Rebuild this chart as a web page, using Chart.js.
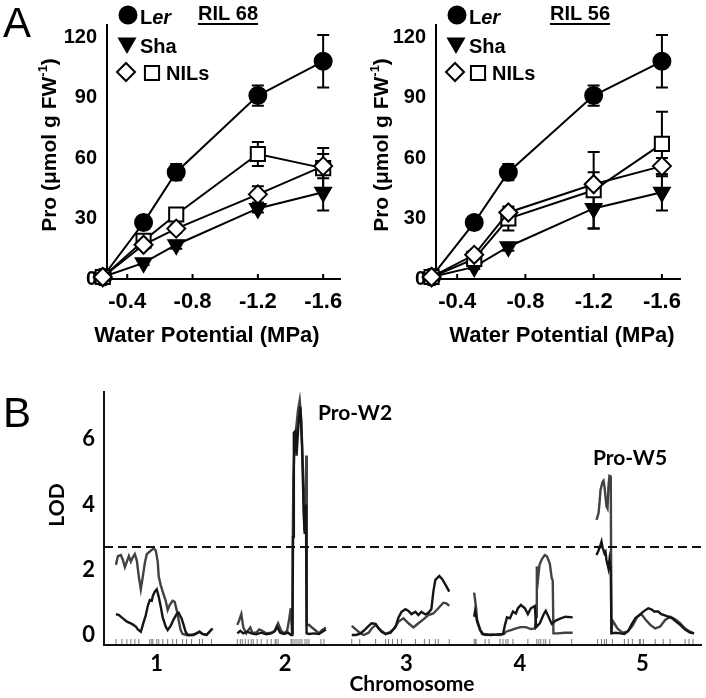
<!DOCTYPE html>
<html>
<head>
<meta charset="utf-8">
<script src="https://cdn.jsdelivr.net/npm/chart.js@4.4.1/dist/chart.umd.min.js"></script>
<style>
  html, body { margin: 0; padding: 0; background: #fff; }
  #wrap { position: relative; width: 706px; height: 698px; overflow: hidden; }
  canvas { position: absolute; }
</style>
</head>
<body>
<div id="wrap">
  <canvas id="ril68" width="353" height="350" style="left:0;top:0"></canvas>
  <canvas id="ril56" width="353" height="350" style="left:353px;top:0"></canvas>
  <canvas id="lod" width="706" height="348" style="left:0;top:350px"></canvas>
</div>
<script>
// ===== Dados do painel A (prolina x potencial hídrico) =====
const waterPotential = [-0.25, -0.5, -0.7, -1.2, -1.6];
const xTicksA = [-0.4, -0.8, -1.2, -1.6];
const yTicksA = [0, 30, 60, 90, 120];

// RIL 68
const ril68Ler = [1, 28, 53, 91, 108];
const ril68LerErr = [0, 2, 4, 5, 13];
const ril68Sha = [1, 8, 17, 35, 43];
const ril68ShaErr = [0, 1, 2, 2, 9];
const ril68NilSquare = [1, 19, 32, 62, 55];
const ril68NilSquareErr = [0, 2, 2, 6, 10];
const ril68NilDiamond = [1, 17, 25, 42, 56];
const ril68NilDiamondErr = [0, 2, 2, 4, 6];

// RIL 56
const ril56Ler = [1, 28, 53, 91, 108];
const ril56LerErr = [0, 2, 4, 5, 13];
const ril56Sha = [1, 6, 16, 35, 43];
const ril56ShaErr = [0, 1, 2, 10, 9];
const ril56NilSquare = [1, 10, 30, 44, 67];
const ril56NilSquareErr = [0, 2, 6, 19, 16];
const ril56NilDiamond = [1, 12, 33, 47, 56];
const ril56NilDiamondErr = [0, 2, 2, 6, 4];

// ===== Dados do painel B (LOD ao longo do genoma) =====
const chromosomes = ['1', '2', '3', '4', '5'];
const chromosomeCenters = [53, 182, 304, 418, 541];
const yTicksB = [0, 2, 4, 6];
const lodThreshold = 2.7;

// posições dos marcadores (traços no eixo)
const markers = [12, 18, 23, 27, 31, 35, 46, 48, 49, 53, 55, 59, 64, 69, 73, 79, 83, 88, 96, 99, 108,
  134, 137, 139, 142, 145, 148, 150, 154, 158, 164, 168, 172, 173, 175, 188, 189, 191, 193, 195, 197, 199, 202, 204, 206, 218, 221,
  249, 257, 273, 283, 286, 290, 295, 299, 313, 322, 327, 333, 336, 347,
  372, 373, 374, 383, 387, 398, 401, 404, 406, 411, 426, 435, 437, 439, 442, 444, 448, 470,
  496, 500, 503, 505, 511, 523, 527, 531, 538, 539, 542, 554, 562, 569, 584, 588, 592];

// curva escura [posição, LOD]
const chr1Dark = [[12,0.64],[15,0.61],[19,0.51],[23,0.41],[28,0.34],[32,0.26],[34,0.17],[37,0.10],[39,0.31],[42,0.61],[44,0.89],[46,1.07],[48,1.05],[49,1.19],[51,1.33],[53,1.40],[55,1.17],[57,0.87],[59,0.54],[62,0.26],[64,0.15],[67,0.28],[70,0.48],[73,0.64],[75,0.68],[78,0.51],[80,0.31],[82,0.10],[84,0],[90,0],[93,0.05],[96,0.10],[99,0.03],[103,0],[106,0.10],[109,0.20]];
const chr2Dark = [[134,0.05],[137,0.13],[140,0.05],[144,0.10],[148,0.05],[153,0.02],[158,0.07],[163,0.02],[168,0.05],[172,0.13],[174,0.26],[177,0.07],[181,0.03],[185,0.07],[188,0],[189.3,0],[190,3.0],[190.8,6.2],[192.3,6.25],[193.5,5.5],[195.5,6.5],[197.3,7.0],[199,5.8],[200.7,3.8],[201.7,3.1],[203,4.0],[203.6,0.05],[206,0.03],[211,0.05],[216,0.03],[221,0.13],[223,0.17]];
const chr3Dark = [[249,0],[253,0],[257,0.03],[261,0.13],[266,0.28],[269,0.36],[273,0.34],[276,0.20],[279,0.10],[283,0.03],[288,0.07],[293,0.26],[296,0.54],[299,0.71],[303,0.79],[306,0.74],[309,0.64],[313,0.71],[316,0.61],[319,0.71],[323,0.63],[326,0.68],[329,0.79],[331,1.33],[333,1.69],[337,1.81],[340,1.71],[344,1.50],[347,1.33]];
const chr4Dark = [[372,0.56],[373,0.74],[375,0.41],[378,0.15],[381,0.03],[388,0],[394,0.01],[401,0.03],[403,0.31],[405,0.54],[408,0.51],[411,0.72],[414,0.66],[416,0.82],[419,0.92],[423,0.82],[426,0.64],[429,0.82],[433,0.89],[434.3,0.24],[438,0.36],[442,0.64],[444,0.74],[447,0.54],[450,0.34],[454,0.44],[459,0.51],[464,0.56],[471,0.54]];
const chr5Dark = [[495,2.45],[497,2.59],[499,2.76],[500,2.86],[501,2.69],[503,2.50],[504,2.55],[505,2.30],[507,2.04],[508,2.30],[509.3,1.99],[510,0.05],[514,0.07],[519,0.05],[523,0.03],[527,0.13],[530,0.31],[534,0.51],[539,0.64],[543,0.74],[547,0.82],[550,0.79],[553,0.72],[557,0.72],[560,0.64],[563,0.61],[567,0.56],[571,0.51],[575,0.41],[579,0.31],[584,0.17],[589,0.07],[593,0.05]];

// curva cinza [posição, LOD]
const chr1Gray = [[12,2.15],[14,2.42],[17,2.45],[19,2.30],[21,2.08],[23,2.25],[25,2.42],[27,2.25],[29,2.38],[31,2.48],[33,2.28],[35,1.79],[37,1.40],[39,1.79],[41,2.20],[43,2.48],[46,2.56],[49,2.63],[50,2.66],[52,2.59],[54,2.25],[55,1.79],[57,1.53],[59,1.33],[62,1.05],[64,0.77],[66,0.92],[69,1.05],[71,1.02],[73,0.77],[75,0.46],[77,0.15],[79,0.03],[83,0],[88,0],[93,0.05],[96,0.10],[99,0.03],[103,0],[106,0.10],[109,0.20]];
const chr2Gray = [[134,0.31],[136,0.46],[138,0.64],[140,0.23],[143,0.05],[145,0.15],[147,0.23],[149,0.07],[153,0.07],[156,0.17],[159,0.13],[163,0.05],[168,0.07],[171,0.10],[173,0.23],[175,0.36],[178,0.13],[181,0.05],[184,0.13],[186,0.46],[187.7,0.82],[189,0.05],[189.6,2.5],[190.3,4.8],[191.3,5.6],[193,6.3],[195,6.9],[196.7,7.2],[198.3,6.6],[200,5.0],[201.3,3.2],[202.3,3.4],[203.3,5.5],[203.8,0.3],[206,0.31],[209,0.23],[213,0.13],[216,0.05],[219,0.15],[223,0.23]];
const chr3Gray = [[249,0.28],[253,0.17],[257,0.07],[261,0],[266,0.07],[269,0.20],[273,0.31],[278,0.15],[283,0.03],[288,0.10],[292,0.20],[296,0.41],[301,0.51],[306,0.36],[311,0.23],[316,0.36],[321,0.48],[326,0.61],[331,0.66],[336,0.82],[341,0.99],[344,0.97],[347,0.89]];
const chr4Gray = [[372,1.30],[374,0.82],[375,0.46],[378,0.17],[380,0.03],[384,0],[391,0.02],[398,0],[402,0.03],[404,0.10],[409,0.15],[414,0.20],[419,0.24],[424,0.24],[429,0.18],[433,0.20],[434.3,0.56],[435,2.10],[436.3,1.74],[437.7,2.15],[440,2.32],[443,2.45],[445,2.42],[448,2.20],[450,1.74],[451,1.67],[451.7,0.05],[456,0.05],[463,0.07],[471,0.07]];
const chr5Gray = [[495,3.53],[497,3.73],[498,4.04],[499,4.45],[501,4.69],[502,4.73],[503,4.55],[505,3.94],[506,3.88],[507,4.55],[508,4.88],[509.3,4.86],[510,0.05],[511,0.45],[516,0.20],[521,0.07],[526,0.10],[531,0.27],[536,0.56],[540,0.64],[544,0.48],[549,0.31],[554,0.20],[559,0.26],[564,0.46],[569,0.56],[574,0.48],[579,0.36],[584,0.20],[589,0.10],[593,0.05]];

// ===== Helpers =====
const ARIAL = '"Liberation Sans", Arial, sans-serif';
const LATO = 'Lato, "Open Sans", sans-serif';
Chart.defaults.font.family = ARIAL;
Chart.defaults.color = '#000';

// junta os pontos de um painel A no formato {x, y}
const toPoints = vals => waterPotential.map((w, i) => ({ x: w, y: vals[i] }));

// junta os cromossomos com uma quebra (null) entre eles
function joinChromosomes(parts) {
  const out = [];
  parts.forEach((part, i) => {
    part.forEach(([x, y]) => out.push({ x, y }));
    if (i < parts.length - 1) out.push({ x: part[part.length - 1][0] + 1, y: null });
  });
  return out;
}

// barras de erro desenhadas com as escalas do Chart.js
const errorBars = {
  id: 'errorBars',
  beforeDatasetsDraw(chart) {
    const { ctx, scales: { x, y } } = chart;
    ctx.save();
    ctx.strokeStyle = '#000';
    ctx.lineWidth = 2;
    chart.data.datasets.forEach(ds => {
      if (!ds.errors) return;
      ds.data.forEach((p, i) => {
        const e = ds.errors[i];
        if (!e) return;
        const px = x.getPixelForValue(p.x);
        const top = y.getPixelForValue(p.y + e);
        const bot = y.getPixelForValue(p.y - e);
        ctx.beginPath();
        ctx.moveTo(px, top); ctx.lineTo(px, bot);
        ctx.moveTo(px - 6, top); ctx.lineTo(px + 6, top);
        ctx.moveTo(px - 6, bot); ctx.lineTo(px + 6, bot);
        ctx.stroke();
      });
    });
    ctx.restore();
  }
};

// textos, legenda e ticks internos do painel A
function panelAText(cfg) {
  return {
    id: 'panelAText',
    afterDraw(chart) {
      const { ctx, chartArea: a, scales: { x } } = chart;
      const L = a.left;
      ctx.save();
      ctx.fillStyle = '#000';
      ctx.strokeStyle = '#000';
      ctx.lineWidth = 2;
      // ticks para dentro
      x.ticks.forEach(t => {
        const px = x.getPixelForValue(t.value);
        ctx.beginPath(); ctx.moveTo(px, a.bottom); ctx.lineTo(px, a.bottom - 5); ctx.stroke();
      });

      // letra do painel
      if (cfg.letter) {
        ctx.font = '42px ' + ARIAL;
        ctx.textBaseline = 'alphabetic';
        ctx.textAlign = 'left';
        ctx.fillText(cfg.letter, 3, 37);
      }

      // titulo sublinhado
      ctx.fillStyle = '#000';
      ctx.font = 'bold 20px ' + ARIAL;
      ctx.textAlign = 'center';
      ctx.textBaseline = 'middle';
      ctx.fillText(cfg.title, cfg.titleX, 14);
      const tw = ctx.measureText(cfg.title).width;
      ctx.beginPath(); ctx.moveTo(cfg.titleX - tw / 2, 24); ctx.lineTo(cfg.titleX + tw / 2, 24); ctx.stroke();

      // legenda
      const draw = (style, x0, y0, r, fill, rot) => {
        ctx.fillStyle = fill;
        ctx.strokeStyle = '#000';
        ctx.lineWidth = 2;
        Chart.helpers.drawPoint(ctx, { pointStyle: style, radius: r, rotation: rot || 0, borderWidth: 2 }, x0, y0);
      };
      draw('circle', L + 21, 15, 8.5, '#000');
      draw('triangle', L + 20, 43, 9, '#000', 180);
      draw('rectRot', L + 19, 72, 9, '#fff');
      draw('rect', L + cfg.squareDx, 73, 10, '#fff');
      ctx.fillStyle = '#000';
      ctx.textAlign = 'left';
      ctx.font = 'bold 20px ' + ARIAL;
      ctx.fillText('L', L + 33, 18);
      const lw = ctx.measureText('L').width;
      ctx.font = 'italic bold 20px ' + ARIAL;
      ctx.fillText('er', L + 33 + lw, 18);
      ctx.font = 'bold 20px ' + ARIAL;
      ctx.fillText('Sha', L + 33, 47);
      ctx.fillText('NILs', L + cfg.squareDx + 14, 74);

      // titulo do eixo x
      ctx.font = 'bold 22px ' + ARIAL;
      ctx.textAlign = 'center';
      ctx.fillText('Water Potential (MPa)', cfg.xTitleX, 336);

      // titulo do eixo y (com sobrescrito)
      ctx.translate(cfg.yTitleX, 145);
      ctx.rotate(-Math.PI / 2);
      ctx.textAlign = 'left';
      const main = 'Pro (\u03bcmol g FW';
      ctx.font = 'bold 21px ' + ARIAL;
      const wMain = ctx.measureText(main).width;
      const wClose = ctx.measureText(')').width;
      ctx.font = 'bold 13px ' + ARIAL;
      const wSup = ctx.measureText('-1').width;
      let sx = -(wMain + wSup + wClose) / 2;
      ctx.font = 'bold 21px ' + ARIAL;
      ctx.fillText(main, sx, 0); sx += wMain;
      ctx.font = 'bold 13px ' + ARIAL;
      ctx.fillText('-1', sx, -7); sx += wSup;
      ctx.font = 'bold 21px ' + ARIAL;
      ctx.fillText(')', sx, 0);
      ctx.restore();
    }
  };
}

function lineSet(vals, errs, style, fill, radius, order, rot) {
  return {
    data: toPoints(vals),
    errors: errs,
    borderColor: '#000',
    borderWidth: 2,
    pointStyle: style,
    pointRadius: radius,
    pointHoverRadius: radius,
    pointRotation: rot || 0,
    pointBackgroundColor: fill,
    pointBorderColor: '#000',
    pointBorderWidth: 2,
    tension: 0,
    clip: false,
    order
  };
}

function makePanelA(id, cfg, ler, lerErr, sha, shaErr, sq, sqErr, di, diErr) {
  new Chart(document.getElementById(id), {
    type: 'line',
    data: {
      datasets: [
        lineSet(di, diErr, 'rectRot', '#fff', 9, 0),
        lineSet(sq, sqErr, 'rect', '#fff', 10, 1),
        lineSet(sha, shaErr, 'triangle', '#000', 9, 2, 180),
        lineSet(ler, lerErr, 'circle', '#000', 8.5, 3)
      ]
    },
    options: {
      responsive: false,
      animation: false,
      devicePixelRatio: 1,
      layout: { padding: { left: 0, top: 25, right: cfg.padRight, bottom: 0 } },
      plugins: { legend: { display: false }, tooltip: { enabled: false } },
      scales: {
        x: {
          type: 'linear', min: -1.706, max: -0.276, reverse: true,
          afterBuildTicks: s => { s.ticks = xTicksA.map(v => ({ value: v })); },
          afterFit: s => { s.height = 71; },
          grid: { display: false, drawTicks: false },
          border: { color: '#000', width: 2 },
          ticks: { font: { size: 22, weight: 'bold' }, color: '#000', padding: 10, maxRotation: 0, callback: v => v.toFixed(1) }
        },
        y: {
          min: 0, max: 126,
          afterBuildTicks: s => { s.ticks = yTicksA.map(v => ({ value: v })); },
          afterFit: s => { s.width = cfg.areaLeft; },
          grid: { display: false, drawTicks: false },
          border: { color: '#000', width: 2 },
          ticks: { font: { size: 20, weight: 'bold' }, color: '#000', padding: 10 }
        }
      }
    },
    plugins: [errorBars, panelAText(cfg)]
  });
}

makePanelA('ril68', { letter: 'A', title: 'RIL 68', titleX: 228, xTitleX: 207, yTitleX: 50, areaLeft: 107, padRight: 3, squareDx: 45 },
  ril68Ler, ril68LerErr, ril68Sha, ril68ShaErr, ril68NilSquare, ril68NilSquareErr, ril68NilDiamond, ril68NilDiamondErr);
makePanelA('ril56', { letter: '', title: 'RIL 56', titleX: 227, xTitleX: 209, yTitleX: 29, areaLeft: 83, padRight: 26, squareDx: 42 },
  ril56Ler, ril56LerErr, ril56Sha, ril56ShaErr, ril56NilSquare, ril56NilSquareErr, ril56NilDiamond, ril56NilDiamondErr);

// ===== Painel B =====
const panelBText = {
  id: 'panelBText',
  afterDraw(chart) {
    const { ctx } = chart;
    ctx.save();
    ctx.fillStyle = '#000';
    ctx.font = '42px ' + ARIAL;
    ctx.textBaseline = 'alphabetic';
    ctx.fillText('B', 3, 77);
    ctx.font = 'bold 21px ' + LATO;
    ctx.textAlign = 'center';
    ctx.textBaseline = 'middle';
    ctx.fillText('Pro-W2', 355, 63);
    ctx.fillText('Pro-W5', 630, 108);
    ctx.fillText('Chromosome', 412, 334);
    ctx.translate(57, 155);
    ctx.rotate(-Math.PI / 2);
    ctx.fillText('LOD', 0, 0);
    ctx.restore();
  }
};

new Chart(document.getElementById('lod'), {
  type: 'line',
  data: {
    datasets: [
      {
        data: [{ x: 0, y: lodThreshold }, { x: 600, y: lodThreshold }],
        borderColor: '#111', borderWidth: 2, borderDash: [9, 5], pointRadius: 0
      },
      {
        data: joinChromosomes([chr1Dark, chr2Dark, chr3Dark, chr4Dark, chr5Dark]),
        borderColor: '#151515', borderWidth: 2.4, pointRadius: 0, tension: 0
      },
      {
        data: joinChromosomes([chr1Gray, chr2Gray, chr3Gray, chr4Gray, chr5Gray]),
        borderColor: '#424242', borderWidth: 2.4, pointRadius: 0, tension: 0
      },
      {
        data: markers.map(m => ({ x: m, y: -0.2 })),
        showLine: false, pointStyle: 'line', pointRotation: 90, pointRadius: 2.5,
        pointBorderColor: '#777', pointBorderWidth: 1
      }
    ]
  },
  options: {
    responsive: false,
    animation: false,
    devicePixelRatio: 1,
    layout: { padding: { left: 0, top: 42, right: 2, bottom: 0 } },
    plugins: { legend: { display: false }, tooltip: { enabled: false } },
    scales: {
      x: {
        type: 'linear', min: 0, max: 600,
        afterBuildTicks: s => { s.ticks = chromosomeCenters.map(v => ({ value: v })); },
        afterFit: s => { s.height = 53; },
        grid: { display: false, drawTicks: false },
        border: { color: '#111', width: 2 },
        ticks: {
          font: { family: LATO, size: 22, weight: 'bold' }, color: '#000', padding: 6, maxRotation: 0,
          callback: v => chromosomes[chromosomeCenters.indexOf(v)]
        }
      },
      y: {
        min: -0.307, max: 7.45,
        afterBuildTicks: s => { s.ticks = yTicksB.map(v => ({ value: v })); },
        afterFit: s => { s.width = 104; },
        grid: { display: false, drawTicks: false },
        border: { color: '#111', width: 2 },
        ticks: { font: { family: LATO, size: 22, weight: 'bold' }, color: '#000', padding: 9 }
      }
    }
  },
  plugins: [panelBText]
});
</script>
</body>
</html>
